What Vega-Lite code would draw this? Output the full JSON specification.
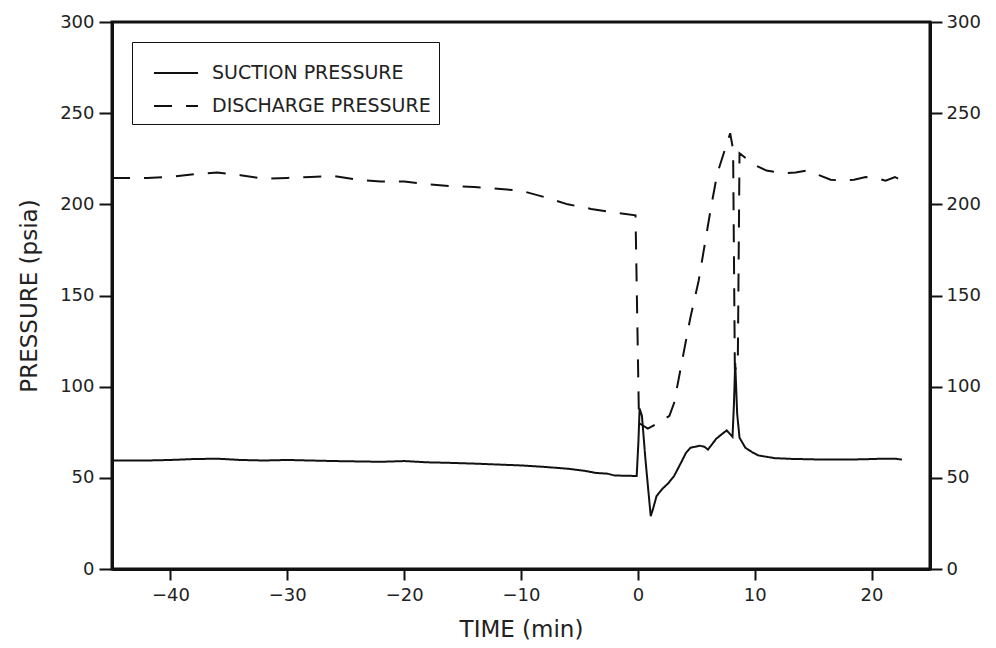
{
  "$schema": "https://vega.github.io/schema/vega-lite/v6.json",
  "width": 818,
  "height": 547,
  "autosize": {"type": "none"},
  "padding": {"left": 112, "top": 22, "right": 66, "bottom": 79},
  "background": "white",
  "config": {
    "font": "DejaVu Sans",
    "view": {"stroke": "#111", "strokeWidth": 3},
    "axis": {
      "domainColor": "#111", "domainWidth": 3, "tickColor": "#111", "tickWidth": 2,
      "labelColor": "#222", "titleColor": "#222", "labelFontSize": 18, "titleFontSize": 23,
      "titleFontWeight": "normal", "grid": false
    },
    "legend": {"labelFontSize": 19, "labelColor": "#222", "labelLimit": 0}
  },
  "datasets": {
    "pressure": [
      {"t": -45, "p": 59.5, "s": "SUCTION PRESSURE"},
      {"t": -42, "p": 59.5, "s": "SUCTION PRESSURE"},
      {"t": -40, "p": 59.8, "s": "SUCTION PRESSURE"},
      {"t": -38, "p": 60.3, "s": "SUCTION PRESSURE"},
      {"t": -36, "p": 60.5, "s": "SUCTION PRESSURE"},
      {"t": -34, "p": 59.8, "s": "SUCTION PRESSURE"},
      {"t": -32, "p": 59.5, "s": "SUCTION PRESSURE"},
      {"t": -30, "p": 59.8, "s": "SUCTION PRESSURE"},
      {"t": -28, "p": 59.5, "s": "SUCTION PRESSURE"},
      {"t": -26, "p": 59.2, "s": "SUCTION PRESSURE"},
      {"t": -24, "p": 59.0, "s": "SUCTION PRESSURE"},
      {"t": -22, "p": 58.8, "s": "SUCTION PRESSURE"},
      {"t": -20, "p": 59.2, "s": "SUCTION PRESSURE"},
      {"t": -18, "p": 58.5, "s": "SUCTION PRESSURE"},
      {"t": -16, "p": 58.2, "s": "SUCTION PRESSURE"},
      {"t": -14, "p": 57.8, "s": "SUCTION PRESSURE"},
      {"t": -12, "p": 57.3, "s": "SUCTION PRESSURE"},
      {"t": -10, "p": 56.8, "s": "SUCTION PRESSURE"},
      {"t": -8, "p": 56.0, "s": "SUCTION PRESSURE"},
      {"t": -6, "p": 55.0, "s": "SUCTION PRESSURE"},
      {"t": -4.5, "p": 53.8, "s": "SUCTION PRESSURE"},
      {"t": -3.6, "p": 52.7, "s": "SUCTION PRESSURE"},
      {"t": -2.6, "p": 52.3, "s": "SUCTION PRESSURE"},
      {"t": -2.0, "p": 51.3, "s": "SUCTION PRESSURE"},
      {"t": -0.1, "p": 51.0, "s": "SUCTION PRESSURE"},
      {"t": 0.05, "p": 70, "s": "SUCTION PRESSURE"},
      {"t": 0.15, "p": 88, "s": "SUCTION PRESSURE"},
      {"t": 0.35, "p": 84, "s": "SUCTION PRESSURE"},
      {"t": 0.65, "p": 60, "s": "SUCTION PRESSURE"},
      {"t": 1.1, "p": 29, "s": "SUCTION PRESSURE"},
      {"t": 1.3, "p": 33, "s": "SUCTION PRESSURE"},
      {"t": 1.6, "p": 40, "s": "SUCTION PRESSURE"},
      {"t": 2.1, "p": 44, "s": "SUCTION PRESSURE"},
      {"t": 2.6, "p": 47, "s": "SUCTION PRESSURE"},
      {"t": 3.1, "p": 51, "s": "SUCTION PRESSURE"},
      {"t": 3.75, "p": 59, "s": "SUCTION PRESSURE"},
      {"t": 4.1, "p": 63.5, "s": "SUCTION PRESSURE"},
      {"t": 4.5, "p": 66.5, "s": "SUCTION PRESSURE"},
      {"t": 5.3, "p": 67.6, "s": "SUCTION PRESSURE"},
      {"t": 5.7, "p": 67, "s": "SUCTION PRESSURE"},
      {"t": 6.0, "p": 65.5, "s": "SUCTION PRESSURE"},
      {"t": 6.3, "p": 68, "s": "SUCTION PRESSURE"},
      {"t": 6.7, "p": 71.4, "s": "SUCTION PRESSURE"},
      {"t": 7.2, "p": 74, "s": "SUCTION PRESSURE"},
      {"t": 7.6, "p": 76, "s": "SUCTION PRESSURE"},
      {"t": 8.1, "p": 72.5, "s": "SUCTION PRESSURE"},
      {"t": 8.22, "p": 90, "s": "SUCTION PRESSURE"},
      {"t": 8.33, "p": 113, "s": "SUCTION PRESSURE"},
      {"t": 8.5, "p": 85, "s": "SUCTION PRESSURE"},
      {"t": 8.7, "p": 72, "s": "SUCTION PRESSURE"},
      {"t": 9.2, "p": 66.5, "s": "SUCTION PRESSURE"},
      {"t": 9.8, "p": 64, "s": "SUCTION PRESSURE"},
      {"t": 10.3, "p": 62.3, "s": "SUCTION PRESSURE"},
      {"t": 11.7, "p": 60.8, "s": "SUCTION PRESSURE"},
      {"t": 13.1, "p": 60.4, "s": "SUCTION PRESSURE"},
      {"t": 14.5, "p": 60.2, "s": "SUCTION PRESSURE"},
      {"t": 16, "p": 60.0, "s": "SUCTION PRESSURE"},
      {"t": 18, "p": 60.0, "s": "SUCTION PRESSURE"},
      {"t": 20, "p": 60.3, "s": "SUCTION PRESSURE"},
      {"t": 21, "p": 60.5, "s": "SUCTION PRESSURE"},
      {"t": 22, "p": 60.5, "s": "SUCTION PRESSURE"},
      {"t": 22.6, "p": 60.0, "s": "SUCTION PRESSURE"},
      {"t": -45, "p": 214.5, "s": "DISCHARGE PRESSURE"},
      {"t": -42, "p": 214.5, "s": "DISCHARGE PRESSURE"},
      {"t": -40, "p": 215, "s": "DISCHARGE PRESSURE"},
      {"t": -38, "p": 216.5, "s": "DISCHARGE PRESSURE"},
      {"t": -36, "p": 217.5, "s": "DISCHARGE PRESSURE"},
      {"t": -34, "p": 216, "s": "DISCHARGE PRESSURE"},
      {"t": -32, "p": 214, "s": "DISCHARGE PRESSURE"},
      {"t": -30, "p": 214.5, "s": "DISCHARGE PRESSURE"},
      {"t": -28, "p": 215, "s": "DISCHARGE PRESSURE"},
      {"t": -26, "p": 215.5, "s": "DISCHARGE PRESSURE"},
      {"t": -24, "p": 213.5, "s": "DISCHARGE PRESSURE"},
      {"t": -22, "p": 212.5, "s": "DISCHARGE PRESSURE"},
      {"t": -20, "p": 212.5, "s": "DISCHARGE PRESSURE"},
      {"t": -18, "p": 211, "s": "DISCHARGE PRESSURE"},
      {"t": -16, "p": 210, "s": "DISCHARGE PRESSURE"},
      {"t": -14, "p": 209.5, "s": "DISCHARGE PRESSURE"},
      {"t": -12, "p": 208.5, "s": "DISCHARGE PRESSURE"},
      {"t": -10, "p": 207.5, "s": "DISCHARGE PRESSURE"},
      {"t": -8, "p": 204, "s": "DISCHARGE PRESSURE"},
      {"t": -6, "p": 200, "s": "DISCHARGE PRESSURE"},
      {"t": -4, "p": 197.5, "s": "DISCHARGE PRESSURE"},
      {"t": -2, "p": 195.5, "s": "DISCHARGE PRESSURE"},
      {"t": -0.2, "p": 194, "s": "DISCHARGE PRESSURE"},
      {"t": 0.1, "p": 80, "s": "DISCHARGE PRESSURE"},
      {"t": 0.85, "p": 77, "s": "DISCHARGE PRESSURE"},
      {"t": 1.7, "p": 80, "s": "DISCHARGE PRESSURE"},
      {"t": 2.7, "p": 84, "s": "DISCHARGE PRESSURE"},
      {"t": 3.1, "p": 91, "s": "DISCHARGE PRESSURE"},
      {"t": 3.9, "p": 118, "s": "DISCHARGE PRESSURE"},
      {"t": 4.5, "p": 138, "s": "DISCHARGE PRESSURE"},
      {"t": 5.2, "p": 158, "s": "DISCHARGE PRESSURE"},
      {"t": 5.75, "p": 179, "s": "DISCHARGE PRESSURE"},
      {"t": 6.25, "p": 198, "s": "DISCHARGE PRESSURE"},
      {"t": 6.8, "p": 217, "s": "DISCHARGE PRESSURE"},
      {"t": 7.7, "p": 235, "s": "DISCHARGE PRESSURE"},
      {"t": 7.9, "p": 239, "s": "DISCHARGE PRESSURE"},
      {"t": 8.15, "p": 230, "s": "DISCHARGE PRESSURE"},
      {"t": 8.3, "p": 110, "s": "DISCHARGE PRESSURE"},
      {"t": 8.55, "p": 110, "s": "DISCHARGE PRESSURE"},
      {"t": 8.7, "p": 228, "s": "DISCHARGE PRESSURE"},
      {"t": 9.3, "p": 225, "s": "DISCHARGE PRESSURE"},
      {"t": 10.2, "p": 221, "s": "DISCHARGE PRESSURE"},
      {"t": 11.0, "p": 218.5, "s": "DISCHARGE PRESSURE"},
      {"t": 12.5, "p": 217, "s": "DISCHARGE PRESSURE"},
      {"t": 13.5, "p": 217.5, "s": "DISCHARGE PRESSURE"},
      {"t": 14.5, "p": 218.5, "s": "DISCHARGE PRESSURE"},
      {"t": 15.5, "p": 216, "s": "DISCHARGE PRESSURE"},
      {"t": 16.5, "p": 213.5, "s": "DISCHARGE PRESSURE"},
      {"t": 17.5, "p": 213, "s": "DISCHARGE PRESSURE"},
      {"t": 18.5, "p": 213.5, "s": "DISCHARGE PRESSURE"},
      {"t": 19.5, "p": 215, "s": "DISCHARGE PRESSURE"},
      {"t": 20.3, "p": 214.5, "s": "DISCHARGE PRESSURE"},
      {"t": 21.2, "p": 213, "s": "DISCHARGE PRESSURE"},
      {"t": 22, "p": 215, "s": "DISCHARGE PRESSURE"},
      {"t": 22.6, "p": 213, "s": "DISCHARGE PRESSURE"}
    ]
  },
  "data": {"name": "pressure"},
  "layer": [
    {
      "transform": [{"filter": "datum.s === 'SUCTION PRESSURE'"}],
      "mark": {"type": "line", "color": "#111", "strokeWidth": 2},
      "encoding": {
        "x": {"field": "t", "type": "quantitative", "scale": {"domain": [-45, 25], "nice": false, "zero": false},
          "axis": {"title": "TIME (min)", "values": [-40, -30, -20, -10, 0, 10, 20], "tickSize": 11, "labelPadding": 6, "titlePadding": 14}},
        "y": {"field": "p", "type": "quantitative", "scale": {"domain": [0, 300], "nice": false},
          "axis": {"title": "PRESSURE (psia)", "values": [0, 50, 100, 150, 200, 250, 300], "tickSize": 13, "labelPadding": 5, "titlePadding": 18}},
        "strokeDash": {"field": "s", "type": "nominal",
          "scale": {"domain": ["SUCTION PRESSURE", "DISCHARGE PRESSURE"], "range": [[1, 0], [18, 14]]},
          "legend": {"title": null, "orient": "none", "legendX": 20, "legendY": 20, "strokeColor": "#111", "padding": 8,
            "symbolType": "stroke", "symbolSize": 1936, "symbolStrokeWidth": 2, "symbolStrokeColor": "#111",
            "symbolOffset": 13, "rowPadding": -17, "labelOffset": 13}}
      }
    },
    {
      "transform": [{"filter": "datum.s === 'DISCHARGE PRESSURE'"}],
      "mark": {"type": "line", "color": "#111", "strokeWidth": 2},
      "encoding": {
        "x": {"field": "t", "type": "quantitative"},
        "y": {"field": "p", "type": "quantitative",
          "axis": {"orient": "right", "title": null, "values": [0, 50, 100, 150, 200, 250, 300], "tickSize": 12, "labelPadding": 4}},
        "strokeDash": {"field": "s", "type": "nominal"}
      }
    }
  ],
  "resolve": {"scale": {"y": "shared"}, "axis": {"y": "independent"}}
}
